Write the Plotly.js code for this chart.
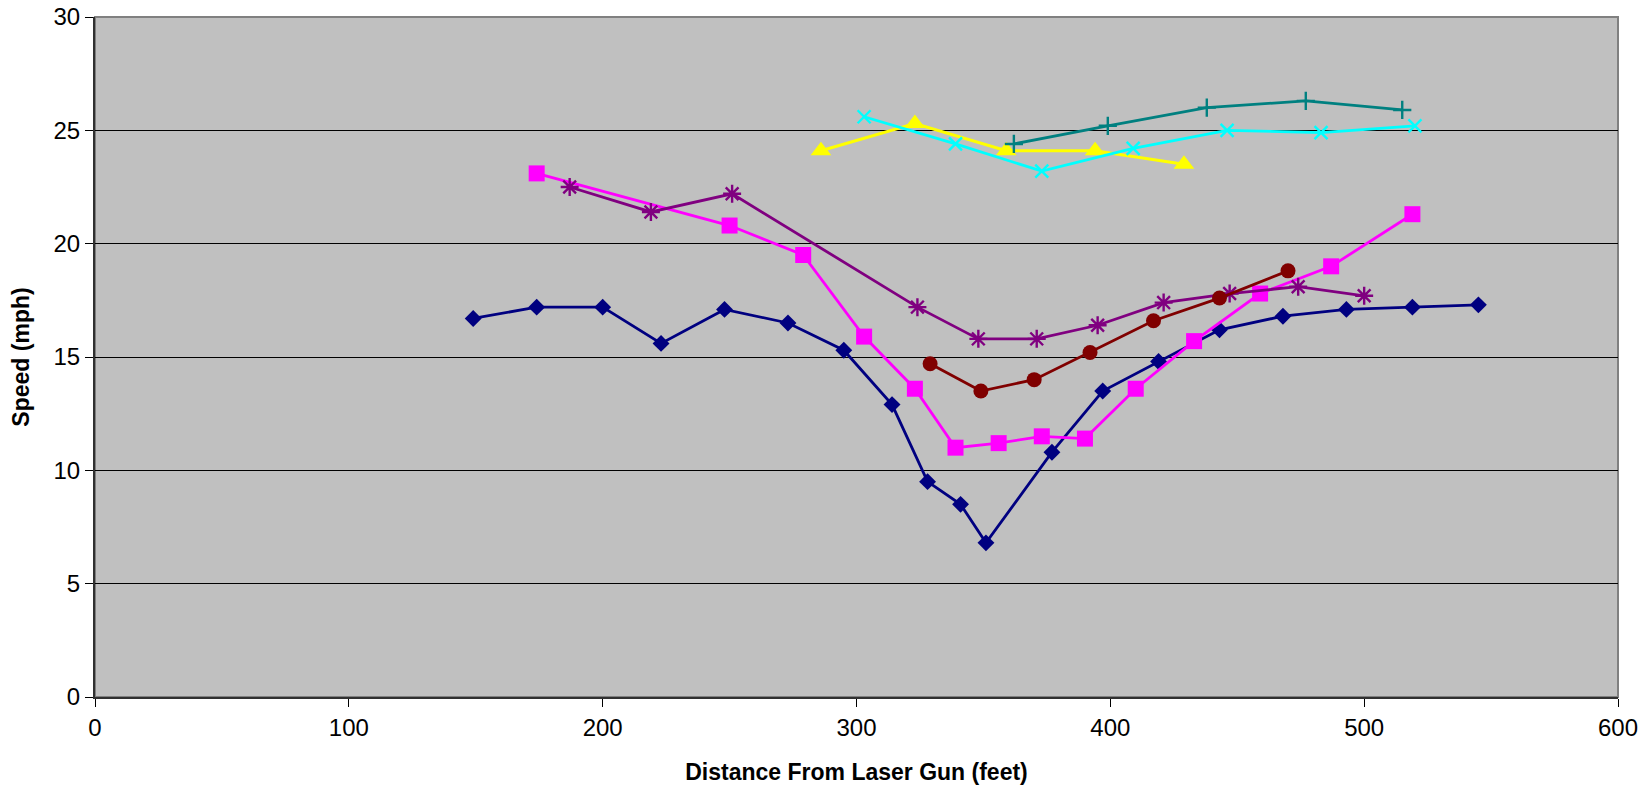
<!DOCTYPE html>
<html>
<head>
<meta charset="utf-8">
<script src="https://cdn.plot.ly/plotly-3.0.1.min.js"></script>
<style>
  html, body { margin: 0; padding: 0; background: #ffffff; }
  #chart { width: 1652px; height: 789px; }
</style>
</head>
<body>
<div id="chart"></div>
<script>
// Series 1 – navy diamonds
const navyX = [149, 174, 200, 223, 248, 273, 295, 314, 328, 341, 351, 377, 397, 419, 443, 468, 493, 519, 545];
const navyY = [16.7, 17.2, 17.2, 15.6, 17.1, 16.5, 15.3, 12.9, 9.5, 8.5, 6.8, 10.8, 13.5, 14.8, 16.2, 16.8, 17.1, 17.2, 17.3];
// Series 2 – magenta squares
const magentaX = [174, 250, 279, 303, 323, 339, 356, 373, 390, 410, 433, 459, 487, 519];
const magentaY = [23.1, 20.8, 19.5, 15.9, 13.6, 11.0, 11.2, 11.5, 11.4, 13.6, 15.7, 17.8, 19.0, 21.3];
// Series 3 – yellow triangles
const yellowX = [286, 323, 359, 394, 429];
const yellowY = [24.1, 25.3, 24.1, 24.1, 23.5];
// Series 4 – cyan crosses (x)
const cyanX = [303, 339, 373, 409, 446, 483, 520];
const cyanY = [25.6, 24.4, 23.2, 24.2, 25.0, 24.9, 25.2];
// Series 5 – purple asterisks
const purpleX = [187, 219, 251, 324, 348, 371, 395, 421, 447, 474, 500];
const purpleY = [22.5, 21.4, 22.2, 17.2, 15.8, 15.8, 16.4, 17.4, 17.8, 18.1, 17.7];
// Series 6 – dark red circles
const redX = [329, 349, 370, 392, 417, 443, 470];
const redY = [14.7, 13.5, 14.0, 15.2, 16.6, 17.6, 18.8];
// Series 7 – teal plus signs
const tealX = [362, 399, 438, 477, 515];
const tealY = [24.4, 25.2, 26.0, 26.3, 25.9];

const xTickVals = [0, 100, 200, 300, 400, 500, 600];
const yTickVals = [0, 5, 10, 15, 20, 25, 30];
const xTitle = 'Distance From Laser Gun (feet)';
const yTitle = 'Speed (mph)';

function series(x, y, color, symbol, size, lw) {
  const thin = /thin|asterisk/.test(symbol);
  return {
    x: x, y: y, type: 'scatter', mode: 'lines+markers',
    line: { color: color, width: lw },
    marker: {
      symbol: symbol, size: size, color: color,
      line: { color: color, width: thin ? 2.4 : 0 }
    },
    showlegend: false,
    hoverinfo: 'x+y'
  };
}

const data = [
  series(navyX, navyY, '#000080', 'diamond', 13, 2.8),
  series(magentaX, magentaY, '#FF00FF', 'square', 16, 2.8),
  series(yellowX, yellowY, '#FFFF00', 'triangle-up', 18, 3),
  series(cyanX, cyanY, '#00FFFF', 'x-thin', 13, 2.8),
  series(purpleX, purpleY, '#800080', 'asterisk', 15, 2.8),
  series(redX, redY, '#800000', 'circle', 15, 2.8),
  series(tealX, tealY, '#008080', 'cross-thin', 13, 2.8)
];

const tickFont = { family: '"Liberation Sans", Arial, sans-serif', size: 24, color: '#000' };
const titleFont = { family: '"Liberation Sans", Arial, sans-serif', size: 23, color: '#000', weight: 'bold' };

const layout = {
  width: 1652, height: 789,
  margin: { l: 95, r: 34, t: 17, b: 92, pad: 0 },
  paper_bgcolor: '#ffffff',
  plot_bgcolor: '#C0C0C0',
  xaxis: {
    range: [0, 600], tickvals: xTickVals, ticktext: xTickVals.map(String),
    ticks: 'outside', ticklen: 8, tickwidth: 1, tickcolor: '#000',
    showgrid: false, zeroline: false,
    showline: true, linecolor: '#303030', linewidth: 2,
    tickfont: tickFont,
    title: { text: '<b>' + xTitle + '</b>', font: titleFont, standoff: 24 }
  },
  yaxis: {
    range: [0, 30], tickvals: yTickVals, ticktext: yTickVals.map(String),
    ticks: 'outside', ticklen: 8, tickwidth: 1, tickcolor: '#000',
    showgrid: true, gridcolor: '#000000', gridwidth: 1,
    zeroline: false,
    showline: true, linecolor: '#303030', linewidth: 2,
    tickfont: tickFont,
    title: { text: '<b>' + yTitle + '</b>', font: titleFont, standoff: 17 }
  },
  shapes: [{
    type: 'rect', xref: 'paper', yref: 'paper', x0: 0, x1: 1, y0: 0, y1: 1,
    line: { color: '#808080', width: 2 }, layer: 'below'
  }]
};

Plotly.newPlot('chart', data, layout, { displayModeBar: false, staticPlot: true });
</script>
</body>
</html>
